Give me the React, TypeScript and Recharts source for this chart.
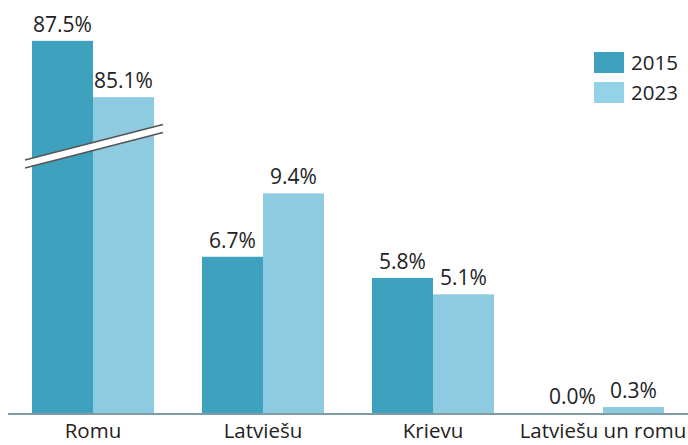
import React from "react";
import { BarChart, Bar, XAxis, YAxis, LabelList, Legend } from "recharts";

const categories = ["Romu", "Latviešu", "Krievu", "Latviešu un romu"];
const values2015 = [87.5, 6.7, 5.8, 0.0];
const values2023 = [85.1, 9.4, 5.1, 0.3];
const seriesNames = ["2015", "2023"];

// broken axis: values above the threshold are drawn shifted down by breakOffset
const breakThreshold = 20;
const breakOffset = 71.6;
const breakPosition = 11.4;

const COLOR_2015 = "#3ea2be";
const COLOR_2023 = "#8fcbe0";
const FONT = "'Open Sans', sans-serif";

const shown = (v: number) => (v > breakThreshold ? v - breakOffset : v);

const data = categories.map((c, i) => ({
  name: c,
  r2015: values2015[i],
  r2023: values2023[i],
  d2015: shown(values2015[i]),
  d2023: shown(values2023[i]),
}));

const fmt = (v: any) => `${Number(v).toFixed(1)}%`;
// keep a zero-valued bar's label position at the baseline
const zeroMin = (v: any) => (Number(v) === 0 ? 1 : 0);

const PlainBar = (props: any) => {
  const { x, y, width, height, fill, payload } = props;
  if (!payload || payload.r2015 === 0) return <g />;
  return <rect x={x} y={y} width={width} height={height} fill={fill} />;
};

const BreakBar = (props: any) => {
  const { x, y, width, height, fill, payload } = props;
  const broken = payload && payload.r2023 > breakThreshold;
  const els: any[] = [
    <rect key="r" x={x} y={y} width={width} height={height} fill={fill} />,
  ];
  if (broken && height > 0) {
    const bottom = y + height;
    const pxPerUnit = height / payload.d2023;
    const cMid = bottom - breakPosition * pxPerUnit;
    const xL = x - width - 7;
    const xR = x + width + 9;
    const slope = -35 / 136;
    const cL = cMid + (xL - x) * slope;
    const cR = cMid + (xR - x) * slope;
    const h = 4;
    els.push(
      <polygon
        key="p"
        points={`${xL},${cL - h} ${xR},${cR - h} ${xR},${cR + h} ${xL},${cL + h}`}
        fill="#ffffff"
      />,
      <line key="l1" x1={xL} y1={cL - h} x2={xR} y2={cR - h} stroke="#555" strokeWidth={1.6} />,
      <line key="l2" x1={xL} y1={cL + h} x2={xR} y2={cR + h} stroke="#555" strokeWidth={1.6} />
    );
  }
  return <g>{els}</g>;
};

const LegendContent = () => {
  const colors = [COLOR_2015, "#93d2e7"];
  return (
    <div style={{ fontFamily: FONT }}>
      {seriesNames.map((n, i) => (
        <div key={n} style={{ display: "flex", alignItems: "center", height: 30, whiteSpace: "nowrap" }}>
          <div style={{ width: 30, height: 21, background: colors[i], marginRight: 7, flexShrink: 0 }} />
          <span style={{ fontSize: 20.5, color: "#222" }}>{n}</span>
        </div>
      ))}
    </div>
  );
};

export default function App() {
  return (
    <div style={{ position: "absolute", left: 0, top: 0, width: 688, height: 445, overflow: "hidden" }}>
      <BarChart
        width={688}
        height={445}
        data={data}
        margin={{ top: 8, right: 0, bottom: 0, left: 8 }}
        barCategoryGap={24}
        barGap={0}
      >
        <XAxis
          dataKey="name"
          axisLine={{ stroke: "#7d9ca3", strokeWidth: 2 }}
          tickLine={false}
          tickSize={0}
          tickMargin={9}
          height={31}
          interval={0}
          tick={{ fontSize: 20.5, fill: "#222", fontFamily: FONT }}
        />
        <YAxis hide domain={[0, 17.3]} />
        <Legend
          layout="vertical"
          align="center"
          verticalAlign="middle"
          content={<LegendContent />}
          wrapperStyle={{ top: 47, left: 594, width: 90 }}
        />
        <Bar
          dataKey="d2015"
          name="2015"
          fill={COLOR_2015}
          isAnimationActive={false}
          minPointSize={zeroMin}
          shape={<PlainBar />}
        >
          <LabelList
            dataKey="r2015"
            position="top"
            offset={9}
            formatter={fmt}
            style={{ fontSize: 21, fill: "#222", fontFamily: FONT }}
          />
        </Bar>
        <Bar dataKey="d2023" name="2023" fill={COLOR_2023} isAnimationActive={false} shape={<BreakBar />}>
          <LabelList
            dataKey="r2023"
            position="top"
            offset={9}
            formatter={fmt}
            style={{ fontSize: 21, fill: "#222", fontFamily: FONT }}
          />
        </Bar>
      </BarChart>
    </div>
  );
}
